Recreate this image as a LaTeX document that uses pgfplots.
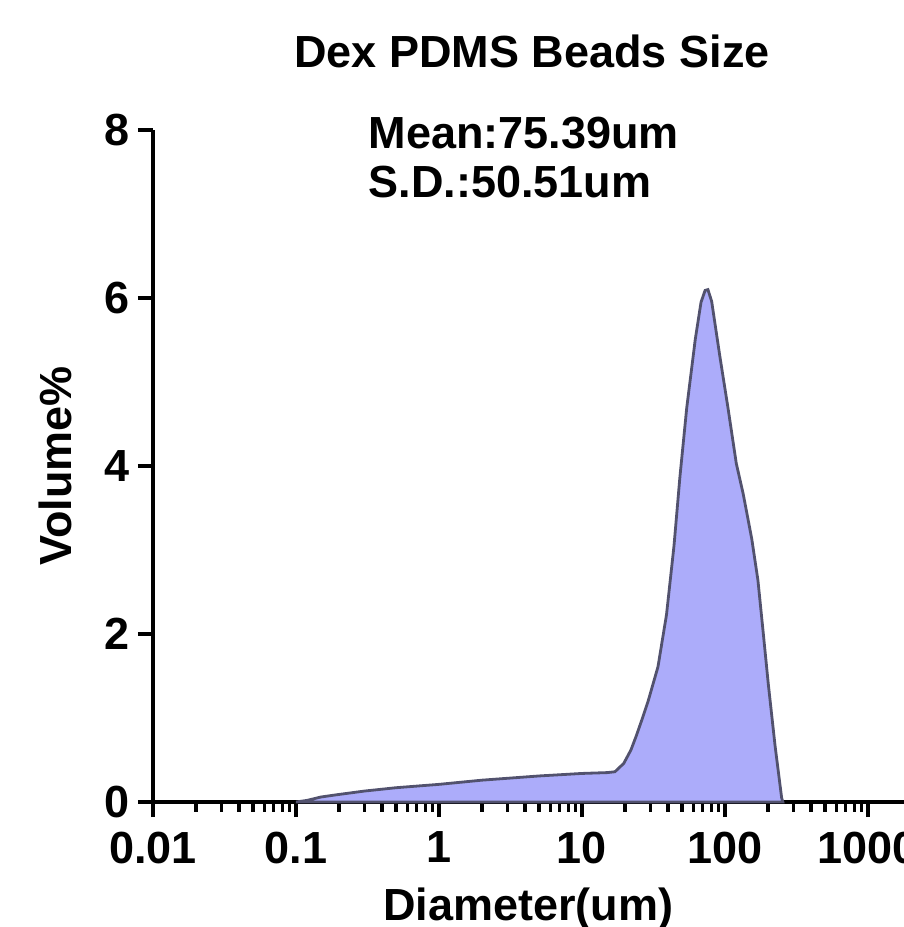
\documentclass[border=0pt]{standalone}
\usepackage{fontspec}
\setmainfont{Liberation Sans}
\usepackage{pgfplots}
\pgfplotsset{compat=1.18}
\definecolor{beadfill}{RGB}{172,172,250}
\definecolor{beadline}{RGB}{82,82,110}
\newcommand{\pf}{\fontsize{11.25}{13.5}\selectfont\bfseries}

\begin{document}
\begin{tikzpicture}
\useasboundingbox (-38.25pt,-31.25pt) rectangle (187.5pt,200.5pt);
\begin{axis}[
  scale only axis,
  width=189.5pt, height=168pt,
  xmode=log, xmin=0.01, xmax=2000,
  ymin=0, ymax=8,
  clip=false,
  axis lines*=left,
  axis line style={line width=1pt},
  tick align=outside,
  major tick length=3.75pt, minor tick length=2.4pt,
  major tick style={line width=1pt, black},
  minor tick style={line width=0.8pt, black},
  xtick={0.01,0.1,1,10,100,1000},
  xticklabels={0.01,0.1,1,10,100,1000},
  minor xtick={0.02,0.03,0.04,0.05,0.06,0.07,0.08,0.09,
               0.2,0.3,0.4,0.5,0.6,0.7,0.8,0.9,
               2,3,4,5,6,7,8,9,20,30,40,50,60,70,80,90,
               200,300,400,500,600,700,800,900,2000},
  ytick={0,2,4,6,8},
  yticklabels={0,2,4,6,8},
  tick label style={font=\pf},
  xticklabel style={inner sep=3.5pt},
  yticklabel style={inner sep=2pt},
  every axis title shift=0pt,
  title={Dex PDMS Beads Size},
  title style={font=\pf, at={(axis description cs:0.5,1.0923)}, anchor=base},
  xlabel={Diameter(um)},
  xlabel style={font=\pf, at={(axis description cs:0.495,-0.177)}, anchor=base},
  ylabel={Volume\%},
  ylabel style={font=\pf, at={(axis description cs:-0.108,0.5)}, anchor=base},
]
\addplot[draw=beadline, line width=0.7pt, fill=beadfill] coordinates {
  (0.1,0) (0.12,0.02) (0.15,0.06) (0.2,0.09) (0.3,0.13) (0.5,0.17)
  (1,0.21) (2,0.26) (5,0.31) (10,0.34) (15,0.35) (17,0.36)
  (19.6,0.46) (22,0.62) (24,0.79) (26.5,1.0) (29,1.20) (34,1.61)
  (39,2.23) (44,3.05) (48.4,3.87) (54,4.69) (62,5.51) (68,5.95)
  (72.6,6.09) (76,6.10) (80.7,5.96) (92,5.31) (105,4.69) (120,4.03)
  (134,3.67) (154,3.13) (170,2.64) (185,2.02) (201,1.40) (224,0.67)
  (249,0.05) (254,0)
} \closedcycle;
\node[anchor=base west, inner sep=0pt, font=\pf] at (rel axis cs:0.2836,0.973) {Mean:75.39um};
\node[anchor=base west, inner sep=0pt, font=\pf] at (rel axis cs:0.2836,0.899) {S.D.:50.51um};
\end{axis}
\end{tikzpicture}
\end{document}
